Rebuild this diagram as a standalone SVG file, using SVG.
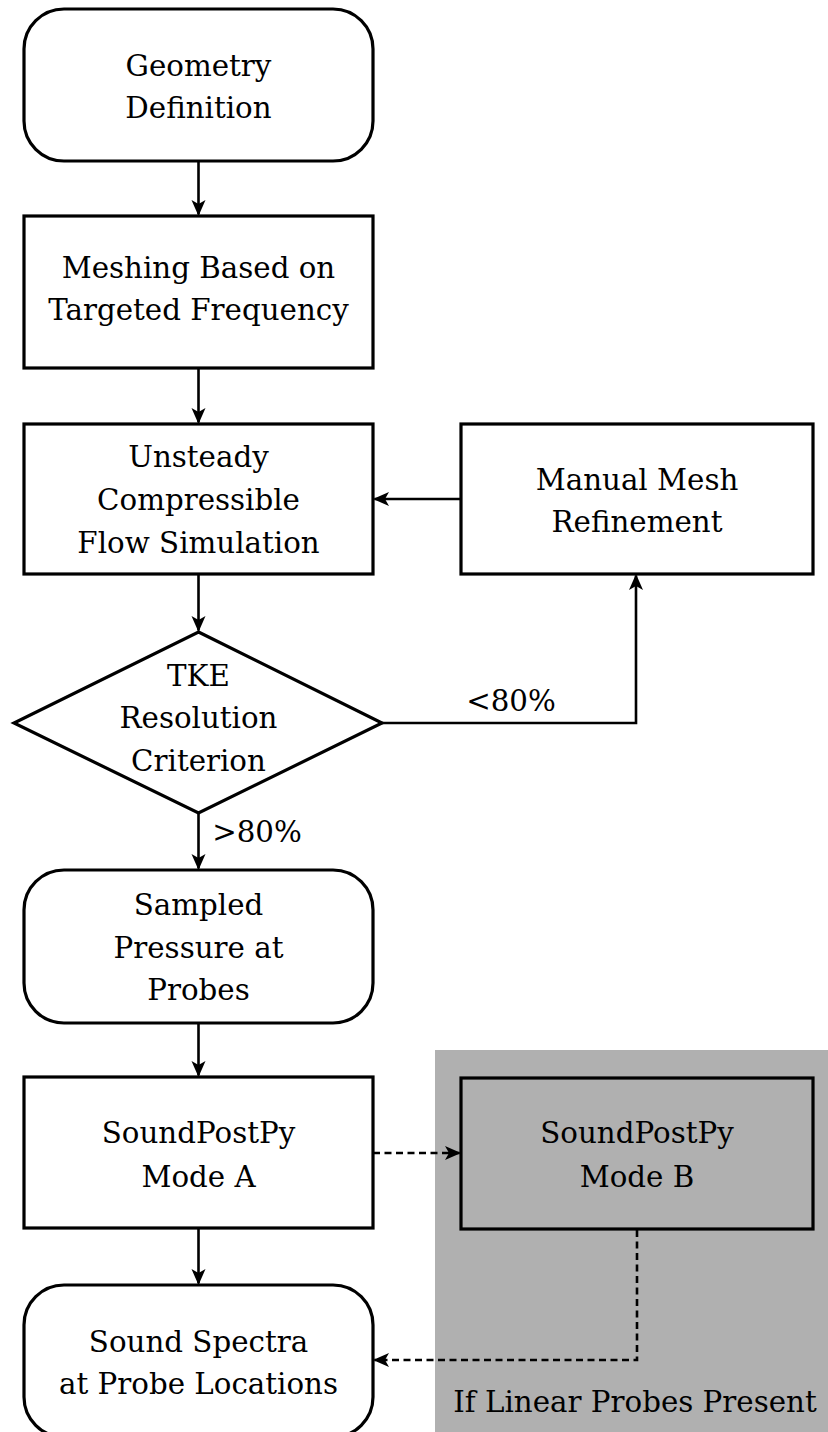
<svg xmlns="http://www.w3.org/2000/svg" width="828" height="1432" viewBox="0 0 828 1432">
<style>
.node{fill:#ffffff;stroke:#000000;stroke-width:3.2}
.grey{fill:#b0b0b0;stroke:#000000;stroke-width:3.2}
text{font-family:'DejaVu Serif','Liberation Serif',serif;font-size:29.3px;fill:#000000;text-anchor:middle}
.c{fill:none;stroke:#000000;stroke-width:2.6}
.d{fill:none;stroke:#000000;stroke-width:2.6;stroke-dasharray:7 4.5}
</style>
<defs>
<marker id="ah" markerUnits="userSpaceOnUse" markerWidth="22" markerHeight="20" viewBox="-20 -10 22 20" refX="-1.5" refY="0" orient="auto">
<path d="M0,0 L-16,-7 L-12,0 L-16,7 Z" fill="#000000"/>
</marker>
</defs>
<rect id="region" x="435" y="1050" width="393" height="382" fill="#b0b0b0"/>
<g id="connectors">
<line class="c" x1="198.5" y1="161" x2="198.5" y2="214.5" marker-end="url(#ah)"/>
<line class="c" x1="198.5" y1="368" x2="198.5" y2="422.5" marker-end="url(#ah)"/>
<line class="c" x1="198.5" y1="574" x2="198.5" y2="630.5" marker-end="url(#ah)"/>
<line class="c" x1="461" y1="499" x2="374.5" y2="499" marker-end="url(#ah)"/>
<polyline class="c" points="382,723 636,723 636,575.5" marker-end="url(#ah)"/>
<line class="c" x1="198.5" y1="813" x2="198.5" y2="868.5" marker-end="url(#ah)"/>
<line class="c" x1="198.5" y1="1023" x2="198.5" y2="1075.5" marker-end="url(#ah)"/>
<line class="c" x1="198.5" y1="1228" x2="198.5" y2="1283.5" marker-end="url(#ah)"/>
<line class="d" x1="373" y1="1153" x2="459.5" y2="1153" marker-end="url(#ah)"/>
<polyline class="d" points="637,1230 637,1360 374.5,1360" marker-end="url(#ah)"/>
<text x="511" y="711">&lt;80%</text>
<text x="257" y="842">&gt;80%</text>
</g>
<g id="geometry">
<rect class="node" x="24" y="9" width="349" height="152" rx="40" ry="40"/>
<text x="198.5" y="76">Geometry</text>
<text x="198.5" y="118">Definition</text>
</g>
<g id="meshing">
<rect class="node" x="24" y="216" width="349" height="152"/>
<text x="198.5" y="278">Meshing Based on</text>
<text x="198.5" y="320">Targeted Frequency</text>
</g>
<g id="unsteady">
<rect class="node" x="24" y="424" width="349" height="150"/>
<text x="198.5" y="467">Unsteady</text>
<text x="198.5" y="510">Compressible</text>
<text x="198.5" y="553">Flow Simulation</text>
</g>
<g id="manual">
<rect class="node" x="461" y="424" width="352" height="150"/>
<text x="637" y="490">Manual Mesh</text>
<text x="637" y="532">Refinement</text>
</g>
<g id="tke">
<polygon class="node" points="198.5,632 382,723 198.5,813 14,723"/>
<text x="198.5" y="686">TKE</text>
<text x="198.5" y="728">Resolution</text>
<text x="198.5" y="771">Criterion</text>
</g>
<g id="sampled">
<rect class="node" x="24" y="870" width="349" height="153" rx="40" ry="40"/>
<text x="198.5" y="915">Sampled</text>
<text x="198.5" y="958">Pressure at</text>
<text x="198.5" y="1000">Probes</text>
</g>
<g id="modeA">
<rect class="node" x="24" y="1077" width="349" height="151"/>
<text x="198.5" y="1143">SoundPostPy</text>
<text x="198.5" y="1187">Mode A</text>
</g>
<g id="modeB">
<rect class="grey" x="461" y="1078" width="352" height="151"/>
<text x="637" y="1143">SoundPostPy</text>
<text x="637" y="1187">Mode B</text>
</g>
<g id="spectra">
<rect class="node" x="24" y="1285" width="349" height="152" rx="40" ry="40"/>
<text x="198.5" y="1352">Sound Spectra</text>
<text x="198.5" y="1394">at Probe Locations</text>
</g>
<g id="region-label">
<text x="635" y="1412">If Linear Probes Present</text>
</g>
</svg>
